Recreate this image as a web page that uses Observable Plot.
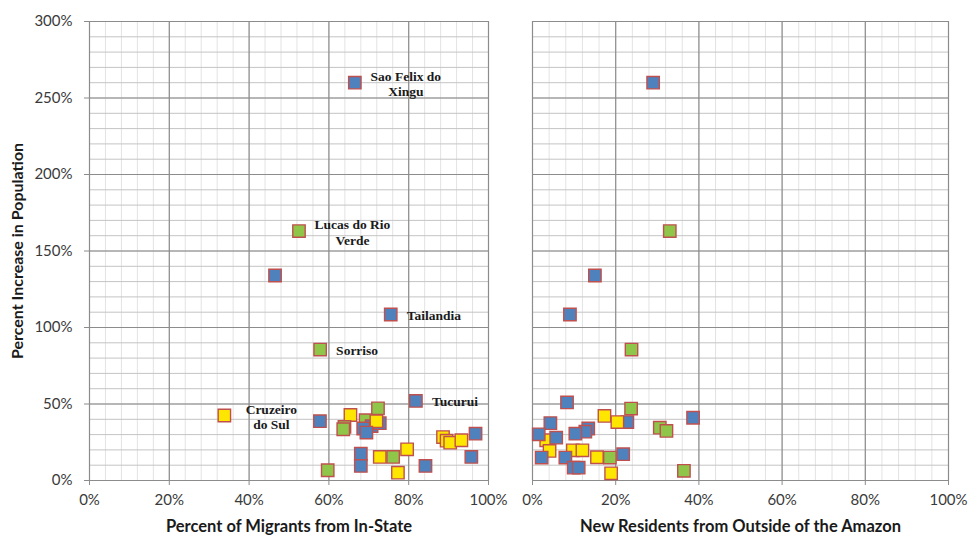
<!DOCTYPE html>
<html>
<head>
<meta charset="utf-8">
<script src="https://cdn.jsdelivr.net/npm/d3@7"></script>
<script src="https://cdn.jsdelivr.net/npm/@observablehq/plot@0.6"></script>
<style>
  body { margin: 0; background: #fff; }
  #wrap { position: relative; width: 972px; height: 540px; overflow: hidden; }
  #wrap svg { position: absolute; top: 0; }
</style>
</head>
<body>
<div id="wrap"></div>
<script>
// ---------- data (percent units) ----------
const groups = ["Group A", "Group B", "Group C"];

// Left panel: percent of migrants from in-state vs percent increase in population
const inStatePct    = [66.5, 52.5, 46.5, 75.5, 57.8, 81.8, 33.8, 57.75, 65.4, 63.9, 63.6, 72.3, 69.2, 70.7, 72.75, 71.9, 68.6, 69.4, 68.0, 68.0, 59.7, 72.75, 76.1, 79.6, 77.3, 84.2, 88.6, 89.5, 90.4, 93.2, 96.75, 95.7];
const inStateGrowth = [260, 163, 134, 108.5, 85.6, 52, 42.5, 38.8, 42.8, 35, 33.5, 47.2, 39.4, 35.6, 37.5, 38.8, 34, 31.3, 17.5, 9.5, 6.7, 15.4, 15.4, 20.4, 5.1, 9.5, 28.4, 26, 24.7, 26.3, 30.6, 15.4];
const inStateGroup  = ["Group A","Group B","Group A","Group A","Group B","Group A","Group C","Group A","Group C","Group B","Group B","Group B","Group B","Group A","Group A","Group C","Group A","Group A","Group A","Group A","Group B","Group C","Group B","Group C","Group C","Group A","Group C","Group C","Group C","Group C","Group A","Group A"];

// Right panel: new residents from outside of the Amazon vs percent increase in population
const outsidePct    = [29, 33, 15, 9, 23.8, 8.3, 23.7, 17.3, 38.6, 22.8, 20.4, 4.3, 30.6, 32.2, 3.3, 1.5, 5.7, 13.4, 12.7, 10.3, 4.1, 9.7, 12.0, 2.2, 7.9, 9.9, 11.1, 15.5, 18.6, 21.8, 18.9, 36.4];
const outsideGrowth = [260, 163, 134, 108.5, 85.6, 51, 47, 42.2, 41, 38.2, 38.2, 37.5, 34.5, 32.4, 26.3, 30.2, 28, 34, 31.9, 30.6, 19.3, 19.7, 19.7, 15, 15, 8.4, 8.4, 15.2, 15, 17.2, 4.7, 6.3];
const outsideGroup  = ["Group A","Group B","Group A","Group A","Group B","Group A","Group B","Group C","Group A","Group A","Group C","Group A","Group B","Group B","Group C","Group A","Group A","Group A","Group A","Group A","Group C","Group C","Group C","Group A","Group A","Group A","Group A","Group C","Group B","Group A","Group C","Group B"];

// Labelled municipalities (left panel)
const cityNames  = ["Sao Felix do\nXingu", "Lucas do Rio\nVerde", "Tailandia", "Sorriso", "Tucurui", "Cruzeiro\ndo Sul"];
const cityPct    = [66.5, 52.5, 75.5, 57.8, 81.8, 33.8];
const cityGrowth = [260, 163, 108.5, 85.6, 52, 42.5];

const xTicks = [0, 20, 40, 60, 80, 100];
const yTicks = [0, 50, 100, 150, 200, 250, 300];
const xTitleLeft  = "Percent of Migrants from In-State";
const xTitleRight = "New Residents from Outside of the Amazon";
const yTitle = "Percent Increase in Population";

// ---------- helpers ----------
const toRows = (xs, ys, gs) => xs.map((x, i) => ({x, y: ys[i], g: gs[i]}));
const leftRows  = toRows(inStatePct, inStateGrowth, inStateGroup);
const rightRows = toRows(outsidePct, outsideGrowth, outsideGroup);
const cityRows  = cityNames.map((name, i) => ({name, x: cityPct[i], y: cityGrowth[i]}));

const minorX = d3.range(0, 101, 4);
const minorY = d3.range(0, 301, 10);
const majorX = d3.range(0, 101, 20);
const majorY = d3.range(0, 301, 50);

const colorScale = {domain: groups, range: ["#4f81bd", "#8fc64a", "#ffe600"]};
const tickFont = "Lato, 'Open Sans', sans-serif";

function panel({rows, width, marginLeft, marginRight, left, title, extra}) {
  return Plot.plot({
    width, height: 540,
    marginTop: 21, marginBottom: 60, marginLeft, marginRight,
    style: {background: "transparent", overflow: "visible"},
    x: {domain: [0, 100]},
    y: {domain: [0, 300], axis: left ? undefined : null},
    color: colorScale,
    marks: [
      Plot.ruleX(minorX, {stroke: "#e3e3e3", strokeWidth: 1}),
      Plot.ruleY(minorY, {stroke: "#c4c4c4", strokeWidth: 1}),
      Plot.ruleX(majorX, {stroke: "#8c8c8c", strokeWidth: 1.2}),
      Plot.ruleY(majorY, {stroke: "#8c8c8c", strokeWidth: 1.2}),
      Plot.axisX({ticks: xTicks, tickFormat: d => d + "%", tickSize: 5, tickPadding: 9,
        stroke: "#8c8c8c", fill: "#3a3a3a", fontSize: 15, fontFamily: tickFont, label: null}),
      left ? Plot.axisY({ticks: yTicks, tickFormat: d => d + "%", tickSize: 5, tickPadding: 12,
        stroke: "#8c8c8c", fill: "#3a3a3a", fontSize: 15, fontFamily: tickFont, label: null}) : null,
      Plot.text([title], {frameAnchor: "bottom", dy: 51, fontSize: 16.5, fontWeight: "bold",
        fontFamily: tickFont, fill: "#1a1a1a"}),
      Plot.dot(rows, {x: "x", y: "y", fill: "g", symbol: "square", r: 7,
        stroke: "#c0504d", strokeWidth: 1.4}),
      ...(extra || [])
    ]
  });
}

const labelFont = "'Liberation Serif', 'Times New Roman', serif";
const labelStyle = {fontSize: 13.5, fontWeight: "bold", fontFamily: labelFont, fill: "#1a1a1a"};
// per-label horizontal offsets (pixels) for the two-line, centred labels
const multiOffsets = {"Sao Felix do\nXingu": 51, "Lucas do Rio\nVerde": 53.5, "Cruzeiro\ndo Sul": 47};
const multiMarks = cityRows.filter(d => d.name.includes("\n")).map(d =>
  Plot.text([d], {x: "x", y: "y", text: "name", dx: multiOffsets[d.name], dy: 1,
    textAnchor: "middle", lineAnchor: "middle", lineHeight: 1.15, ...labelStyle}));
const singleMarks = Plot.text(cityRows.filter(d => !d.name.includes("\n")), {
  x: "x", y: "y", text: "name", dx: 16, dy: 1, textAnchor: "start", lineAnchor: "middle", ...labelStyle});
const yTitleMark = Plot.text([yTitle], {frameAnchor: "left", textAnchor: "middle", rotate: -90, dx: -72,
  fontSize: 16, fontWeight: "bold", fontFamily: tickFont, fill: "#1a1a1a"});

const leftSvg = panel({rows: leftRows, width: 500, marginLeft: 89, marginRight: 12, left: true,
  title: xTitleLeft, extra: [yTitleMark, ...multiMarks, singleMarks]});
const rightSvg = panel({rows: rightRows, width: 472, marginLeft: 32, marginRight: 24, left: false,
  title: xTitleRight});

leftSvg.style.left = "0px";
rightSvg.style.left = "500px";
const wrap = document.getElementById("wrap");
wrap.appendChild(leftSvg);
wrap.appendChild(rightSvg);
</script>
</body>
</html>
